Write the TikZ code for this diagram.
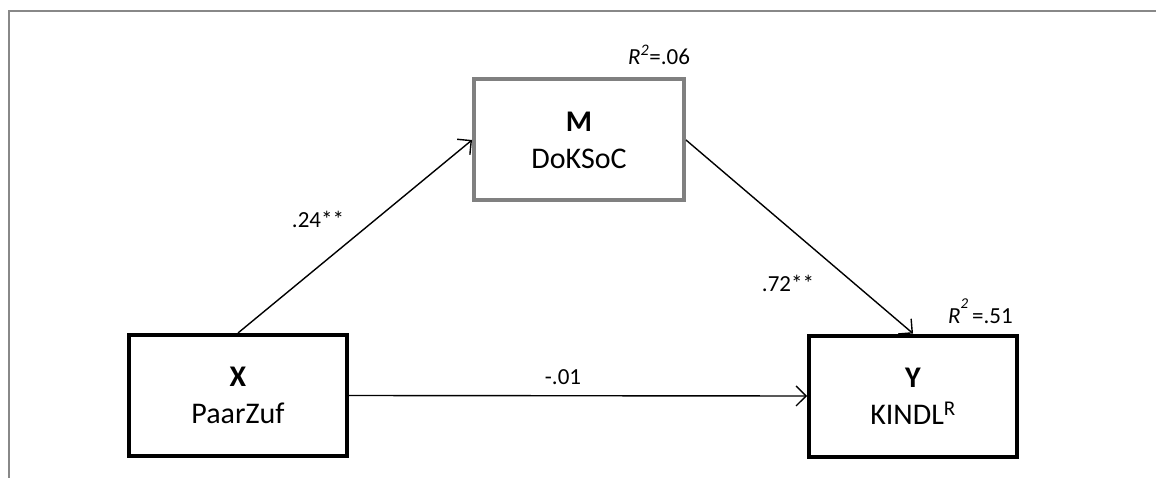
\documentclass[tikz,border=0pt]{standalone}
\usepackage{fontspec}
\setmainfont{Carlito}
\usetikzlibrary{arrows.meta}
\begin{document}
\begin{tikzpicture}[x=1pt,y=-1pt,
  box/.style={draw, line width=4pt, minimum height=121pt, inner sep=0pt, align=center,
    font=\fontsize{30}{37}\selectfont},
  lab/.style={font=\fontsize{23}{27}\selectfont, inner sep=0pt},
  path/.style={line width=1.4pt, -{Straight Barb[length=10pt,width=20pt,line width=1.4pt]}}
]
\useasboundingbox (0,0) rectangle (1156,478);
\draw[color={rgb,255:red,136;green,136;blue,136}, line width=2pt] (9,478) -- (9,11) -- (1156,11);

\node[box, draw={rgb,255:red,128;green,128;blue,128}, minimum width=210pt] (M) at (579,140) {\textbf{M}\\DoKSoC};
\node[box, minimum width=218pt] (X) at (238,395.5) {\textbf{X}\\PaarZuf};
\node[box, minimum width=208pt] (Y) at (913,396) {\textbf{Y}\\KINDL\textsuperscript{R}};

\draw[path] (X.north) -- (M.west);
\draw[path] (M.east) -- (Y.north);
\draw[path] (X.east) -- (Y.west);

\node[lab] (l1) at (318,219) {.24**};
\node[lab] (l2) at (788,283) {.72**};
\node[lab] (l3) at (563,377) {-.01};
\node[lab, anchor=base west] (r1) at (628,65) {\textit{R}\textsuperscript{\textit{2}}=.06};
\node[lab, anchor=base west] (r2) at (948,323) {\textit{R}\raisebox{0.65em}{\fontsize{15}{15}\selectfont\textit{2}}\,=.51};
\end{tikzpicture}
\end{document}
